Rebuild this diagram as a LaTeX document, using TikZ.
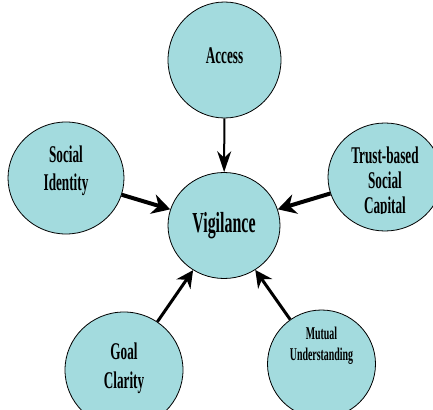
\documentclass[tikz,border=0pt]{standalone}
\usepackage{fontspec}
\newfontfamily\lblfont{Liberation Serif}[FakeStretch=0.55]
\usetikzlibrary{arrows.meta,shapes.geometric}
\definecolor{bubblefill}{RGB}{163,219,222}
\tikzset{
  bubble/.style={ellipse, draw=black, fill=bubblefill, line width=0.8pt, minimum width=113pt, minimum height=112pt, inner sep=0pt},
  lbl/.style={font=\lblfont\bfseries\fontsize{24}{28}\selectfont, align=center, inner sep=0pt},
  arrow/.style={-{Stealth[length=17pt,width=17pt]}, line width=3pt},
}
\begin{document}
\begin{tikzpicture}[x=1pt,y=-1pt]
\useasboundingbox (0,0) rectangle (433,409);
% circles
\node (access) [bubble, minimum height=116pt] at (224.5,60) {};
\node (vig) [bubble, minimum width=112pt, minimum height=106pt] at (224,225.5) {};
\node (social) [bubble, minimum width=116pt] at (66,178) {};
\node (trust) [bubble, minimum width=114pt, minimum height=108pt] at (385,177) {};
\node (goal) [bubble, minimum width=118pt, minimum height=116pt] at (124,370) {};
\node (mutual) [bubble, minimum width=108pt, minimum height=108pt] at (321.5,364) {};

% labels
\node (accesstxt) [lbl] at ([yshift=4pt]access) {Access};
\node (vigtxt) [lbl, font=\lblfont\bfseries\fontsize{29}{32}\selectfont] at (vig) {Vigilance};
\node (socialtxt) [lbl] at ([yshift=7pt]social) {Social\\Identity};
\begin{scope}
\clip (300,100) rectangle (433,213);
\node (trusttxt) [lbl, font=\lblfont\bfseries\fontsize{24}{25}\selectfont] at ([yshift=-6pt]trust) {Trust-based\\Social\\Capital};
\end{scope}
\node (goaltxt) [lbl, font=\lblfont\bfseries\fontsize{24}{29}\selectfont] at ([yshift=2pt]goal) {Goal\\Clarity};
\node (mutualtxt) [lbl, font=\lblfont\bfseries\fontsize{18}{21}\selectfont] at ([yshift=18pt]mutual) {Mutual\\Understanding};

% arrows into the centre
\draw[arrow, line width=2pt, -{Stealth[length=21pt,width=14pt]}] (access) -- (vig);
\draw[arrow, line width=4pt, -{Stealth[length=18pt,width=20pt]}] (social) -- (vig);
\draw[arrow, line width=4pt, -{Stealth[length=18pt,width=20pt]}] (trust) -- (vig);
\draw[arrow] (goal) -- (vig);
\draw[arrow] (mutual) -- (vig);
\end{tikzpicture}
\end{document}
